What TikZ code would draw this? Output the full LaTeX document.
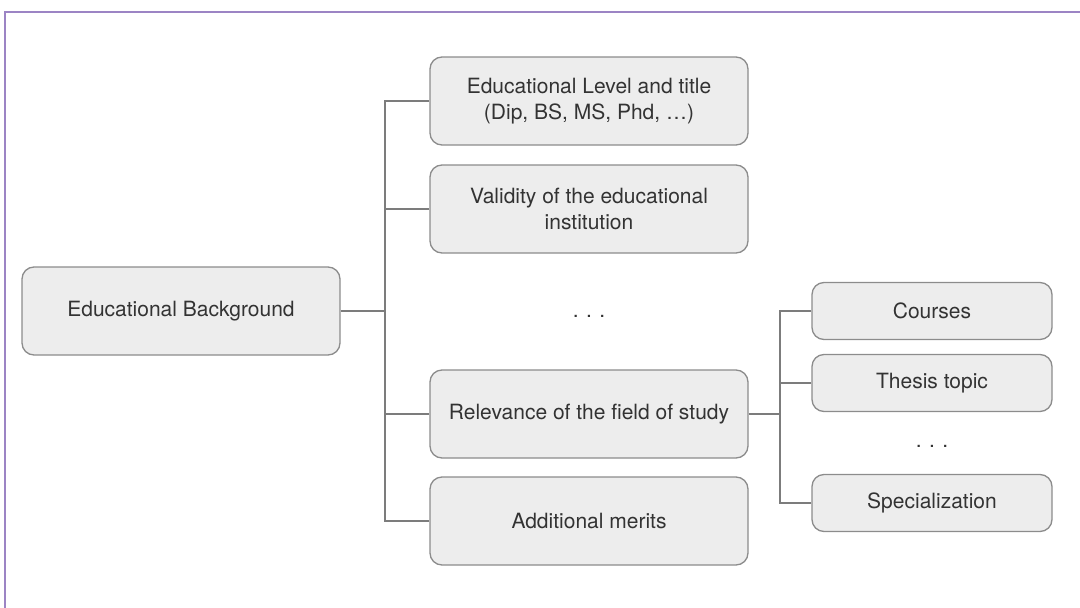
\documentclass[tikz,border=0pt]{standalone}
\usepackage{fontspec}
\setmainfont{TeX Gyre Heros}
\definecolor{framepurple}{HTML}{9C84C4}
\definecolor{boxfill}{HTML}{EDEDED}
\definecolor{boxline}{HTML}{8C8C8C}
\definecolor{wire}{HTML}{7C7C7C}
\definecolor{txt}{HTML}{333333}
\begin{document}
\begin{tikzpicture}[x=1pt,y=-1pt,
  box/.style={draw=boxline, fill=boxfill, line width=1.3pt, rounded corners=12pt,
    align=center, text=txt, font=\fontsize{21}{26}\selectfont, inner sep=0pt},
  bigbox/.style={box, minimum width=318pt, minimum height=88pt},
  smallbox/.style={box, minimum width=240pt, minimum height=57pt},
  wirestyle/.style={draw=wire, line width=1.4pt},
  dots/.style={text=txt, font=\fontsize{21}{26}\selectfont}]
\useasboundingbox (0,0) rectangle (1080,608);
% frame
\draw[framepurple, line width=2pt] (5,608) -- (5,12) -- (1080,12);
% nodes
\node[bigbox] (bg) at (181,311) {Educational Background};
\node[bigbox] (lvl) at (589,101) {Educational Level and title\\(Dip, BS, MS, Phd, \dots)};
\node[bigbox] (val) at (589,209) {Validity of the educational\\institution};
\node[dots] (d1) at (589,316) {.\hspace{0.35em}.\hspace{0.35em}.};
\node[bigbox] (rel) at (589,414) {Relevance of the field of study};
\node[bigbox] (add) at (589,521) {Additional merits};
\node[smallbox] (cou) at (932,311) {Courses};
\node[smallbox] (the) at (932,383) {Thesis topic};
\node[dots] (d2) at (932,446) {.\hspace{0.35em}.\hspace{0.35em}.};
\node[smallbox] (spe) at (932,503) {Specialization};
% connectors
\coordinate (t1) at (385,311);
\coordinate (t2) at (780,414);
\draw[wirestyle] (bg.east) -- (t1);
\draw[wirestyle] (lvl.west) -| (t1);
\draw[wirestyle] (val.west) -| (t1);
\draw[wirestyle] (rel.west) -| (t1);
\draw[wirestyle] (add.west) -| (t1);
\draw[wirestyle] (rel.east) -- (t2);
\draw[wirestyle] (cou.west) -| (t2);
\draw[wirestyle] (the.west) -| (t2);
\draw[wirestyle] (spe.west) -| (t2);
\end{tikzpicture}
\end{document}
